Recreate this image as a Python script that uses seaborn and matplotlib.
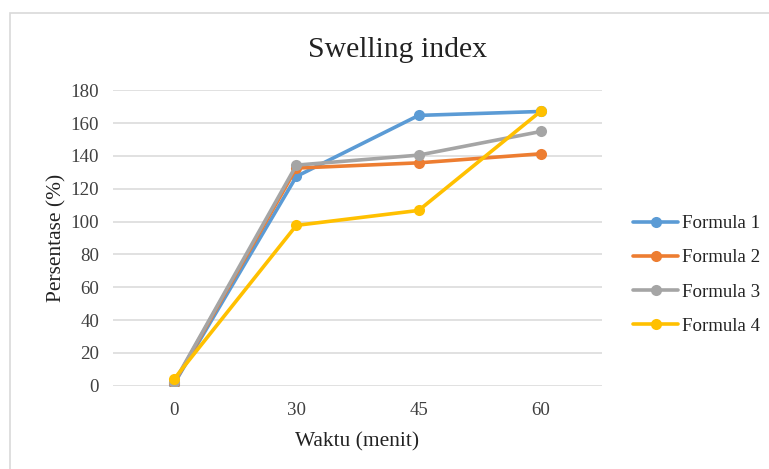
import matplotlib
matplotlib.use("Agg")
import matplotlib.pyplot as plt
import seaborn as sns
import pandas as pd
from matplotlib.patches import Rectangle

waktu = ["0", "30", "45", "60"]
formula_1 = [1.2, 127.5, 164.7, 167.1]
formula_2 = [1.6, 132.6, 135.8, 141.3]
formula_3 = [2.0, 134.4, 140.5, 154.9]
formula_4 = [4.1, 97.7, 106.8, 167.3]
series_names = ["Formula 1", "Formula 2", "Formula 3", "Formula 4"]
colors = ["#5B9BD5", "#ED7D31", "#A5A5A5", "#FFC000"]

rows = []
for name, vals in zip(series_names, [formula_1, formula_2, formula_3, formula_4]):
    for w, v in zip(waktu, vals):
        rows.append({"Waktu": w, "Persentase": v, "Formula": name})
df = pd.DataFrame(rows)

sns.set_theme(style="white")
plt.rcParams["font.family"] = ["Liberation Serif", "DejaVu Serif"]

W, H = 769, 469
fig = plt.figure(figsize=(W / 100, H / 100), dpi=100)
ax = fig.add_axes([113 / W, 1 - 385.7 / H, (602 - 113) / W, (385.7 - 90.3) / H])

sns.lineplot(data=df, x="Waktu", y="Persentase", hue="Formula", palette=colors,
             marker="o", markersize=8, markeredgewidth=0, linewidth=2.6,
             sort=False, ax=ax)

ax.set_xlim(-0.5, 3.5)
ax.set_ylim(0, 180)
ax.set_yticks(range(0, 181, 20))
ax.grid(axis="y", color="#D9D9D9", linewidth=1.1)
ax.grid(axis="x", visible=False)
ax.set_axisbelow(True)
for s in ax.spines.values():
    s.set_visible(False)
ax.tick_params(axis="both", length=0, labelsize=13.6, colors="#404040")
ax.tick_params(axis="x", pad=12)
ax.tick_params(axis="y", pad=10)
ax.set_xlabel("Waktu (menit)", fontsize=15.4, color="#222222", labelpad=9)
ax.set_ylabel("Persentase (%)", fontsize=15.4, color="#222222", labelpad=3)

fig.text(397 / W, 1 - 57 / H, "Swelling index", ha="center", va="baseline",
         fontsize=21.4, color="#222222")

leg = ax.legend(loc="upper left", bbox_to_anchor=(633 / W, 1 - 215 / H),
                bbox_transform=fig.transFigure, frameon=False, fontsize=13.6,
                handlelength=2.4, handletextpad=0.2, labelspacing=0.9,
                borderpad=0, borderaxespad=0)
for t in leg.get_texts():
    t.set_color("#222222")

fig.patches.append(Rectangle((10 / W, -0.1), 1.1, (1 - 13 / H) + 0.1,
                             transform=fig.transFigure, fill=False,
                             edgecolor="#D9D9D9", linewidth=1.2))

fig.savefig("out.png", dpi=100, facecolor="white")
